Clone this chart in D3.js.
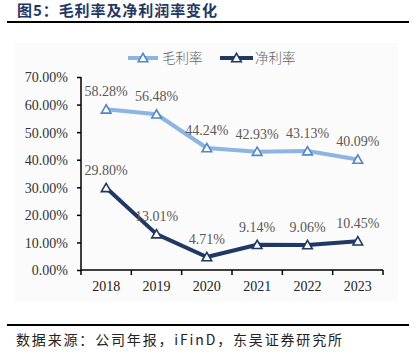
<!DOCTYPE html>
<html><head><meta charset="utf-8">
<script src="https://cdn.jsdelivr.net/npm/d3@7"></script>
<style>html,body{margin:0;padding:0;background:#fff;}svg{display:block;}</style>
</head><body>
<svg id="c" width="416" height="356"></svg>
<script>
const years = ["2018","2019","2020","2021","2022","2023"];
const grossMargin = [58.28, 56.48, 44.24, 42.93, 43.13, 40.09];
const netMargin = [29.80, 13.01, 4.71, 9.14, 9.06, 10.45];
const yTicks = [0,10,20,30,40,50,60,70];
const seriesNames = ["毛利率","净利率"];

const svg = d3.select("#c");
const serif = "'Liberation Serif','Times New Roman',serif";
const cjk = "'Noto Sans CJK SC','Noto Sans',sans-serif";

// title
svg.append("text").attr("x",17).attr("y",16).attr("font-family",cjk).attr("font-weight","bold")
  .attr("font-size",15).attr("fill","#1f3864").attr("textLength",200).attr("lengthAdjust","spacing")
  .text("图5：毛利率及净利润率变化");
svg.append("line").attr("x1",7).attr("x2",409).attr("y1",22).attr("y2",22).attr("stroke","#000").attr("stroke-width",2);

// chart bg
svg.append("rect").attr("x",15).attr("y",43).attr("width",383).attr("height",259).attr("fill","#fbfbfb");

const x = d3.scaleBand().domain(years).range([81,383]);
const y = d3.scaleLinear().domain([0,70]).range([270,77]);

const yAxis = svg.append("g").attr("transform","translate(81,0)")
  .call(d3.axisLeft(y).tickValues(yTicks).tickSize(4).tickFormat(d=>d.toFixed(2)+"%"));
yAxis.select(".domain").attr("stroke","#000").attr("stroke-width",1.5).attr("d","M0,77V270");
yAxis.selectAll(".tick line").attr("stroke","#000").attr("stroke-width",1.5);
yAxis.selectAll("text").attr("font-family",serif).attr("font-size",14).attr("fill","#333").attr("x",-13).attr("dy","0.35em");

const xAxis = svg.append("g").attr("transform","translate(0,270)")
  .call(d3.axisBottom(x).tickSize(0).tickPadding(0));
xAxis.select(".domain").attr("stroke","#000").attr("stroke-width",1.5).attr("d","M81,0H383");
xAxis.selectAll("text").attr("font-family",serif).attr("font-size",14).attr("fill","#222").attr("y",21).attr("dy",0);
// boundary ticks
const bounds = years.map(d=>x(d)).concat([x.range()[1]]);
svg.append("g").selectAll("line").data(bounds).join("line")
  .attr("x1",d=>d).attr("x2",d=>d).attr("y1",270).attr("y2",275).attr("stroke","#000").attr("stroke-width",1.5);

const cx = d => x(d)+x.bandwidth()/2;
const tri = d3.symbol().type(d3.symbolTriangle).size(40);

function drawSeries(vals, lineColor, markerColor){
  const data = years.map((yr,i)=>({yr, v: vals[i]}));
  svg.append("path").datum(data).attr("fill","none").attr("stroke",lineColor).attr("stroke-width",4)
    .attr("stroke-linejoin","round")
    .attr("d", d3.line().x(d=>cx(d.yr)).y(d=>y(d.v)));
  svg.append("g").selectAll("path").data(data).join("path")
    .attr("transform",d=>`translate(${cx(d.yr)},${y(d.v)+1})`).attr("d",tri)
    .attr("fill","#fff").attr("stroke",markerColor).attr("stroke-width",1.6);
  svg.append("g").selectAll("text").data(data).join("text")
    .attr("x",d=>cx(d.yr)).attr("y",d=>y(d.v)-13).attr("text-anchor","middle")
    .attr("font-family",serif).attr("font-size",14).attr("fill","#595959")
    .text(d=>d.v.toFixed(2)+"%");
}
drawSeries(grossMargin, "#8db4e2", "#4f86d0");
drawSeries(netMargin, "#1f3864", "#1f3864");

// legend
const legend = [{name:seriesNames[0], line:"#8db4e2", mk:"#4f86d0", x1:128, x2:158, tx:162},
                {name:seriesNames[1], line:"#1f3864", mk:"#1f3864", x1:220, x2:253, tx:255}];
const lg = svg.append("g").selectAll("g").data(legend).join("g");
lg.append("line").attr("x1",d=>d.x1).attr("x2",d=>d.x2).attr("y1",58).attr("y2",58).attr("stroke",d=>d.line).attr("stroke-width",4);
lg.append("path").attr("transform",d=>`translate(${(d.x1+d.x2)/2},59)`).attr("d",tri).attr("fill","#fff").attr("stroke",d=>d.mk).attr("stroke-width",1.6);
lg.append("text").attr("x",d=>d.tx).attr("y",63).attr("font-family",cjk).attr("font-size",13.5).attr("font-weight",300).attr("fill","#666").text(d=>d.name);

// footer
svg.append("line").attr("x1",7).attr("x2",409).attr("y1",325).attr("y2",325).attr("stroke","#000").attr("stroke-width",2);
svg.append("text").attr("x",16).attr("y",345).attr("font-family",cjk).attr("font-size",14).attr("fill","#222")
  .attr("textLength",326).attr("lengthAdjust","spacing")
  .text("数据来源：公司年报，iFinD，东吴证券研究所");
</script>
</body></html>
